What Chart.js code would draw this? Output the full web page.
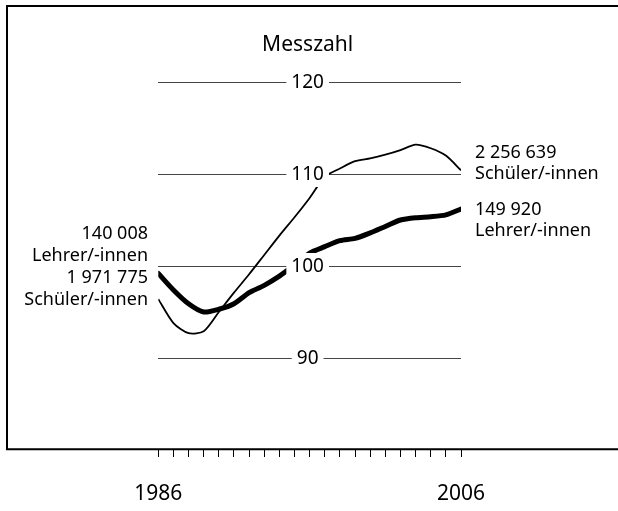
<!DOCTYPE html>
<html>
<head>
<meta charset="utf-8">
<script src="https://cdn.jsdelivr.net/npm/chart.js@4/dist/chart.umd.min.js"></script>
<style>
html,body{margin:0;padding:0;background:#fff;}
#wrap{width:618px;height:511px;position:relative;}
</style>
</head>
<body>
<div id="wrap"><canvas id="c" width="618" height="511"></canvas></div>
<script>
const years = [1986,1987,1988,1989,1990,1991,1992,1993,1994,1995,1996,1997,1998,1999,2000,2001,2002,2003,2004,2005,2006];
const lehrer = [99.2,97.4,95.9,95.0,95.3,95.9,97.1,97.9,98.9,100.1,101.4,102.1,102.75,103.0,103.6,104.3,105.0,105.25,105.35,105.55,106.2];
const schueler = [96.4,93.8,92.7,92.9,95.0,97.1,99.1,101.2,103.3,105.3,107.4,109.7,110.6,111.4,111.7,112.1,112.6,113.2,112.8,112.0,110.4];
const yTickLabels = [90,100,110,120];
const xTickLabels = {1986:'1986', 2006:'2006'};
const titleText = 'Messzahl';
const leftNotes = ['140 008','Lehrer/-innen','1 971 775','Schüler/-innen'];
const rightNotesSchueler = ['2 256 639','Schüler/-innen'];
const rightNotesLehrer = ['149 920','Lehrer/-innen'];

const FONT = '"Noto Sans", "Open Sans", sans-serif';

const decor = {
  id:'decor',
  beforeDraw(chart){
    const ctx = chart.ctx;
    ctx.save();
    ctx.strokeStyle = '#000';
    ctx.lineWidth = 2;
    ctx.beginPath();
    ctx.moveTo(618,6);
    ctx.lineTo(7,6);
    ctx.lineTo(7,449.3);
    ctx.lineTo(618,449.3);
    ctx.stroke();
    ctx.restore();
  },
  afterDatasetsDraw(chart){
    const ctx = chart.ctx;
    const ys = chart.scales.y;
    const xs = chart.scales.x;
    const cx = (xs.left + xs.right)/2 - 2;
    ctx.save();
    ctx.font = '19px ' + FONT;
    ctx.textAlign = 'center';
    ctx.textBaseline = 'middle';
    yTickLabels.forEach(v=>{
      const py = ys.getPixelForValue(v);
      const w = ctx.measureText(String(v)).width;
      ctx.fillStyle = '#fff';
      ctx.fillRect(cx - w/2 - 5, py - 13, w + 10, 26);
      ctx.fillStyle = '#000';
      ctx.fillText(String(v), cx, py + 1);
    });
    // title
    ctx.font = '21px ' + FONT;
    ctx.fillText(titleText, cx, 45);
    // side notes
    ctx.font = '18px ' + FONT;
    ctx.textAlign = 'right';
    const lp = [234,256,278,300];
    leftNotes.forEach((t,i)=>ctx.fillText(t, 148, lp[i]));
    ctx.textAlign = 'left';
    const rs = [153,174];
    rightNotesSchueler.forEach((t,i)=>ctx.fillText(t, 475, rs[i]));
    const rl = [210,231];
    rightNotesLehrer.forEach((t,i)=>ctx.fillText(t, 475, rl[i]));
    ctx.restore();
  }
};

new Chart(document.getElementById('c'), {
  type:'line',
  data:{
    datasets:[
      {label:'Schüler/-innen', data: years.map((y,i)=>({x:y,y:schueler[i]})), borderColor:'#000', borderWidth:1.8, pointRadius:0, tension:0.25, fill:false},
      {label:'Lehrer/-innen', data: years.map((y,i)=>({x:y,y:lehrer[i]})), borderColor:'#000', borderWidth:5, pointRadius:0, tension:0.25, fill:false, borderCapStyle:'round', borderJoinStyle:'round'}
    ]
  },
  options:{
    responsive:false,
    animation:false,
    events:[],
    layout:{padding:{left:158.3, right:157, top:36, bottom:0}},
    plugins:{legend:{display:false}, tooltip:{enabled:false}, title:{display:false}},
    scales:{
      x:{
        type:'linear', min:1986, max:2006,
        afterFit(s){ s.height = 61; },
        border:{display:false},
        grid:{drawOnChartArea:false, drawTicks:true, tickLength:7, color:'#000', lineWidth:1},
        ticks:{stepSize:1, autoSkip:false, maxRotation:0, padding:24, color:'#000',
          font:{family:FONT, size:21},
          callback:(v)=> xTickLabels[v] || ''}
      },
      y:{
        type:'linear', min:80, max:125,
        afterFit(s){ s.width = 0; },
        afterBuildTicks(s){ s.ticks = yTickLabels.map(v=>({value:v})); },
        border:{display:false},
        grid:{drawTicks:false, color:'#444', lineWidth:1},
        ticks:{display:false}
      }
    }
  },
  plugins:[decor]
});
</script>
</body>
</html>
